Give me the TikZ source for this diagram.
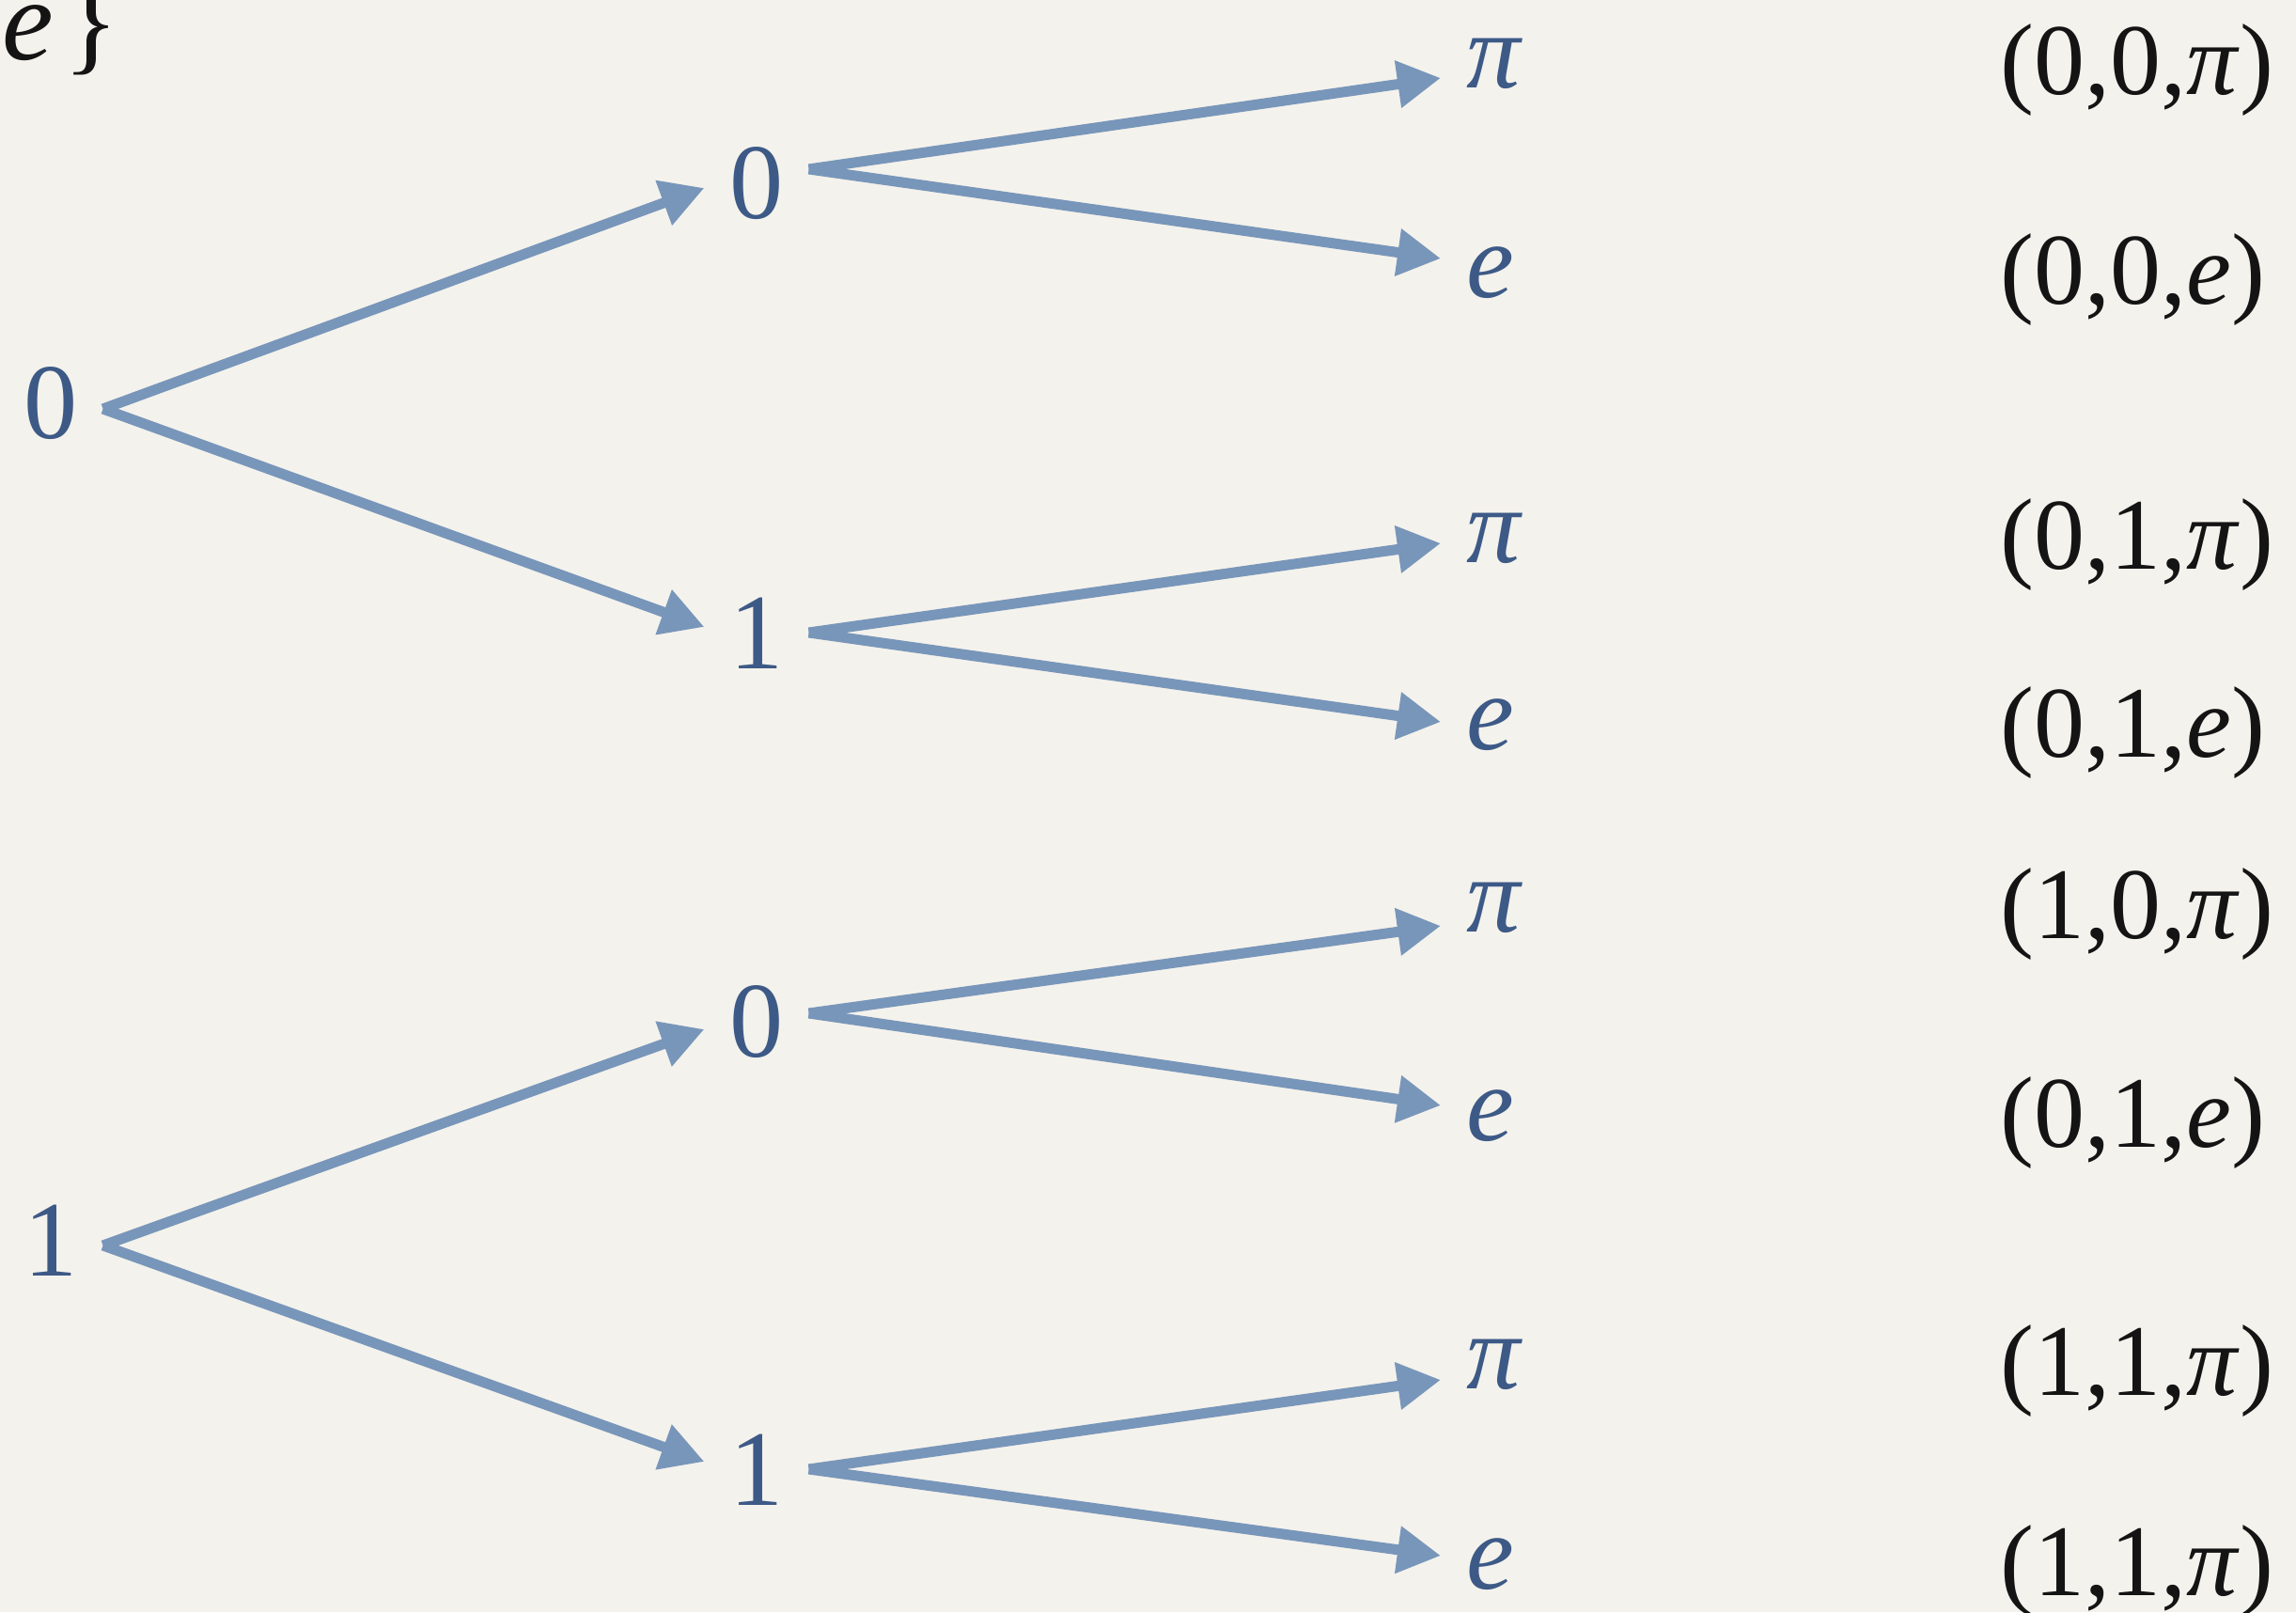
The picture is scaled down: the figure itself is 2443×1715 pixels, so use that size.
\documentclass[tikz,border=0pt]{standalone}
\usepackage{fontspec}
\setmainfont{Liberation Serif}
\usetikzlibrary{arrows.meta}
\definecolor{bg}{HTML}{F4F2EC}
\definecolor{txtblue}{HTML}{3D5A87}
\definecolor{arrblue}{HTML}{7896BA}
\definecolor{lbl}{HTML}{141414}
\begin{document}
\begin{tikzpicture}[x=0.01cm,y=-0.01cm,
  tree/.style={text=txtblue, font=\fontsize{32.5pt}{38pt}\selectfont, inner sep=0pt, outer xsep=0.27cm, outer ysep=0pt, text height=0.76cm, text depth=0pt, anchor=base},
  leaf/.style={tree, anchor=base west},
  tuple/.style={text=lbl, font=\fontsize{30.7pt}{37pt}\selectfont, inner sep=0pt, anchor=base west},
  arr/.style={draw=arrblue, line width=0.11cm, -{Triangle[length=0.46cm,width=0.48cm]}}]
\fill[bg] (0,0) rectangle (2443,1715);
\useasboundingbox (0,0) rectangle (2443,1715);
\clip (0,0) rectangle (2443,1715);

% top-left remnant
\node[font=\fontsize{35pt}{40pt}\selectfont, inner sep=0pt, anchor=base west, text=lbl] (topset) at (2,64) {\textit{e}\kern0.08em\}};

% tree nodes
\node[tree] (r0) at (54,466) {0};
\node[tree] (r1) at (54,1357) {1};
\node[tree] (a0) at (805,232) {0};
\node[tree] (a1) at (805,711) {1};
\node[tree] (b0) at (805,1124) {0};
\node[tree] (b1) at (805,1601) {1};

% leaves
\node[leaf] (l1) at (1533,93) {\textit{π}};
\node[leaf] (l2) at (1533,316) {\textit{e}};
\node[leaf] (l3) at (1533,598) {\textit{π}};
\node[leaf] (l4) at (1533,797) {\textit{e}};
\node[leaf] (l5) at (1533,991) {\textit{π}};
\node[leaf] (l6) at (1533,1213) {\textit{e}};
\node[leaf] (l7) at (1533,1477) {\textit{π}};
\node[leaf] (l8) at (1533,1690) {\textit{e}};

% tuples
\node[tuple] (t1) at (2128,100) {(0,0,\textit{π})};
\node[tuple] (t2) at (2128,323) {(0,0,\textit{e})};
\node[tuple] (t3) at (2128,605) {(0,1,\textit{π})};
\node[tuple] (t4) at (2128,805) {(0,1,\textit{e})};
\node[tuple] (t5) at (2128,998) {(1,0,\textit{π})};
\node[tuple] (t6) at (2128,1220) {(0,1,\textit{e})};
\node[tuple] (t7) at (2128,1484) {(1,1,\textit{π})};
\node[tuple] (t8) at (2128,1697) {(1,1,\textit{π})};

% edges
\draw[arr] ([yshift=-0.07cm]r0.east) -- ([yshift=-0.06cm]a0.west);
\draw[arr] ([yshift=-0.07cm]r0.east) -- ([yshift=0.06cm]a1.west);
\draw[arr] ([yshift=-0.06cm]r1.east) -- ([yshift=-0.09cm]b0.west);
\draw[arr] ([yshift=-0.06cm]r1.east) -- ([yshift=0.08cm]b1.west);
\draw[arr] ([yshift=0.14cm]a0.east) -- ([yshift=-0.28cm]l1.west);
\draw[arr] ([yshift=0.14cm]a0.east) -- ([yshift=0.03cm]l2.west);
\draw[arr] (a1.east) -- ([yshift=-0.18cm]l3.west);
\draw[arr] (a1.east) -- ([yshift=-0.09cm]l4.west);
\draw[arr] ([yshift=0.08cm]b0.east) -- ([yshift=-0.32cm]l5.west);
\draw[arr] ([yshift=0.08cm]b0.east) -- ([yshift=-0.01cm]l6.west);
\draw[arr] (b1.east) -- ([yshift=-0.29cm]l7.west);
\draw[arr] (b1.east) -- ([yshift=-0.03cm]l8.west);
\end{tikzpicture}
\end{document}
